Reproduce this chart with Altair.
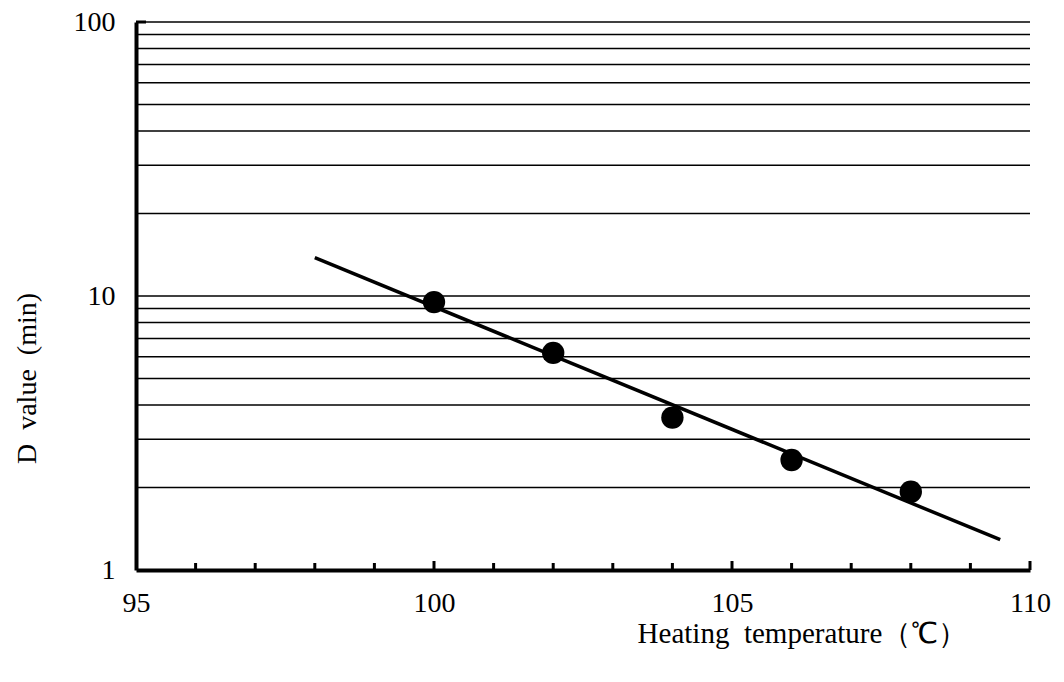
import altair as alt
import pandas as pd

# data
temp = [100, 102, 104, 106, 108]
d_value = [9.5, 6.2, 3.6, 2.52, 1.93]
trend_x = [98.0, 109.5]
trend_y = [13.8, 1.29]
grid_vals = [2, 3, 4, 5, 6, 7, 8, 9, 10, 20, 30, 40, 50, 60, 70, 80, 90, 100]
x_labels = [95, 100, 105, 110]
x_minor = [96, 97, 98, 99, 101, 102, 103, 104, 106, 107, 108, 109]
x_major = [100, 105, 110]
y_major = [100]

W, H = 894, 548
FONT = "Liberation Serif"

pts = pd.DataFrame({"t": temp, "d": d_value})
trend = pd.DataFrame({"t": trend_x, "d": trend_y})
grid = pd.DataFrame({"d": grid_vals})
minor = pd.DataFrame({"t": x_minor})
major = pd.DataFrame({"t": x_major})
ymaj = pd.DataFrame({"d": y_major})

xscale = alt.Scale(domain=[95, 110], nice=False, zero=False)
yscale = alt.Scale(type="log", domain=[1, 100], nice=False)

xaxis = alt.Axis(values=x_labels, ticks=False, grid=False, domainWidth=4,
                 domainColor="black", labelFontSize=28, labelFont=FONT,
                 labelColor="black", labelPadding=19, format="d",
                 labelFlush=False, labelOverlap=False,
                 title="Heating\u2002temperature（℃）", titleFont=FONT,
                 titleFontSize=29, titleFontWeight="normal", titleColor="black",
                 titleX=666, titleY=63, titleAlign="center",
                 titleBaseline="middle", titleAnchor="start")
yaxis = alt.Axis(values=[1, 10, 100], ticks=False, grid=False, domainWidth=4,
                 domainColor="black", labelFontSize=28, labelFont=FONT,
                 labelColor="black", labelPadding=21, format="d",
                 labelFlush=False, labelOverlap=False,
                 title="D\u2002value\u2002(min)", titleFont=FONT, titleFontSize=28,
                 titleFontWeight="normal", titleColor="black",
                 titleX=-109, titleY=356, titleAngle=270, titleAlign="center",
                 titleBaseline="middle", titleAnchor="start")

gridlines = alt.Chart(grid).mark_rule(color="black", strokeWidth=1.5).encode(
    y=alt.Y("d:Q", scale=yscale, axis=yaxis),
    x=alt.value(0), x2=alt.value(W))

line = alt.Chart(trend).mark_line(color="black", strokeWidth=3.5).encode(
    x=alt.X("t:Q", scale=xscale, axis=xaxis),
    y=alt.Y("d:Q", scale=yscale))

points = alt.Chart(pts).mark_circle(color="black", opacity=1, size=500).encode(
    x=alt.X("t:Q", scale=xscale),
    y=alt.Y("d:Q", scale=yscale))

minor_ticks = alt.Chart(minor).mark_rule(color="black", strokeWidth=3).encode(
    x=alt.X("t:Q", scale=xscale), y=alt.value(H), y2=alt.value(H - 7))

major_ticks = alt.Chart(major).mark_rule(color="black", strokeWidth=3).encode(
    x=alt.X("t:Q", scale=xscale), y=alt.value(H), y2=alt.value(H - 9))

y_ticks = alt.Chart(ymaj).mark_rule(color="black", strokeWidth=3).encode(
    y=alt.Y("d:Q", scale=yscale), x=alt.value(0), x2=alt.value(10))

chart = alt.layer(gridlines, line, points, minor_ticks, major_ticks, y_ticks).properties(
    width=W, height=H,
    autosize=alt.AutoSizeParams(type="none"),
    padding={"left": 136, "top": 22, "right": 34, "bottom": 112},
    background="white",
).configure_view(stroke=None)

chart.save("out.html", embed_options={"renderer": "svg", "actions": False})
